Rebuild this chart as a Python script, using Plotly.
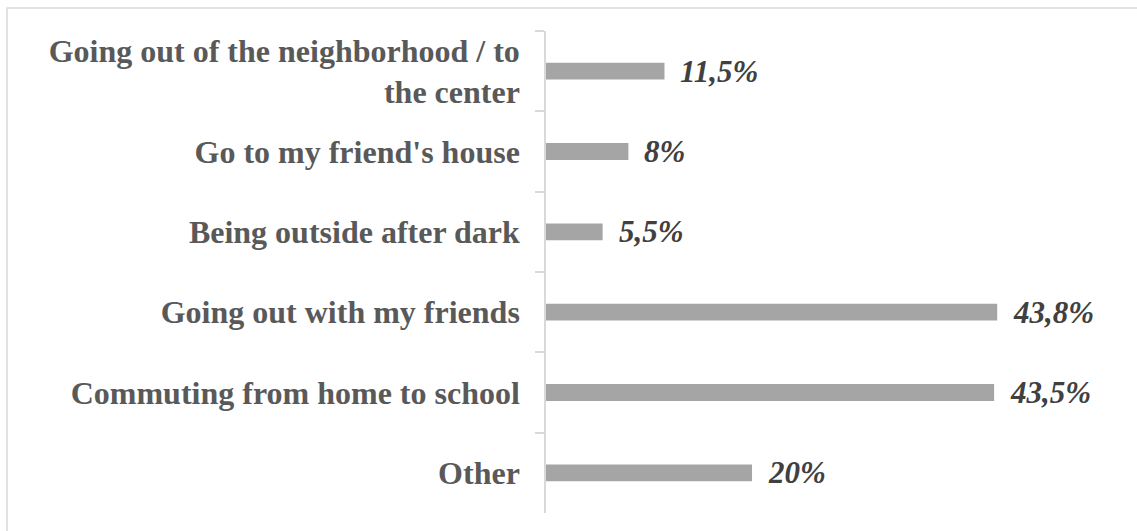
import plotly.graph_objects as go

# Survey answers, top to bottom
categories = [
    "Going out of the neighborhood / to<br>the center",
    "Go to my friend's house",
    "Being outside after dark",
    "Going out with my friends",
    "Commuting from home to school",
    "Other",
]
values = [11.5, 8.0, 5.5, 43.8, 43.5, 20.0]
value_labels = ["11,5%", "8%", "5,5%", "43,8%", "43,5%", "20%"]

W, H = 1137, 531
M_LEFT, M_RIGHT, M_TOP, M_BOTTOM = 546, 10, 31, 18
GRID = "#D9D9D9"
FONT = "Liberation Serif"

fig = go.Figure(
    go.Bar(
        x=values,
        y=categories,
        orientation="h",
        marker=dict(color="#A5A5A5", line=dict(width=0)),
        hoverinfo="skip",
    )
)

for v, c, t in zip(values, categories, value_labels):
    fig.add_annotation(
        x=v, y=c, text=t, showarrow=False,
        xanchor="left", yanchor="middle", xshift=14,
        font=dict(family=FONT, size=31, color="#404040", weight="bold", style="italic"),
    )

# light frame around the chart area
pw = W - M_LEFT - M_RIGHT
ph = H - M_TOP - M_BOTTOM
fx0 = (7 - M_LEFT) / pw
fx1 = (W + 5 - M_LEFT) / pw
fy1 = (H - M_BOTTOM - 8) / ph
fy0 = -(M_BOTTOM + 5) / ph
fig.add_shape(type="rect", xref="paper", yref="paper",
              x0=fx0, x1=fx1, y0=fy0, y1=fy1,
              line=dict(color=GRID, width=1.5), layer="below")

fig.update_layout(
    width=W, height=H,
    margin=dict(l=M_LEFT, r=M_RIGHT, t=M_TOP, b=M_BOTTOM),
    paper_bgcolor="white", plot_bgcolor="white",
    bargap=0.79,
    showlegend=False,
    xaxis=dict(range=[0, 56.4], visible=False, fixedrange=True),
    yaxis=dict(
        categoryorder="array", categoryarray=categories,
        autorange="reversed",
        showline=True, linecolor=GRID, linewidth=1.5,
        ticks="outside", tickson="boundaries", ticklen=9, tickcolor=GRID, tickwidth=1.5,
        showgrid=False,
        ticklabelstandoff=18,
        tickfont=dict(family=FONT, size=32, color="#595959", weight="bold"),
    ),
)

fig.write_html("out.html")
